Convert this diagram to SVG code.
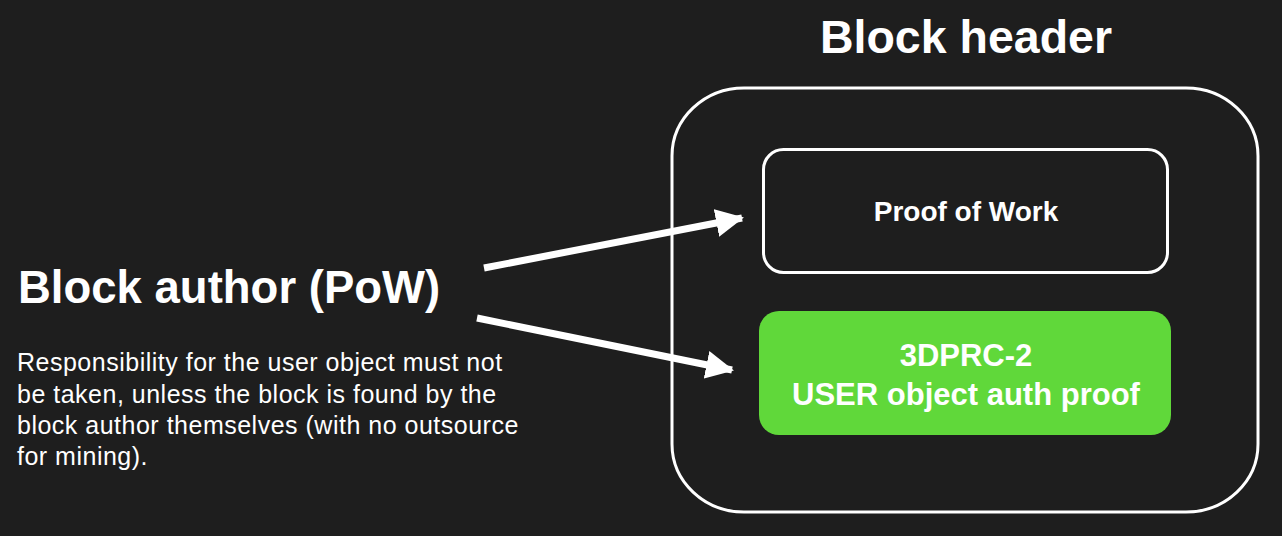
<svg xmlns="http://www.w3.org/2000/svg" width="1282" height="536" viewBox="0 0 1282 536">
<style>
.t{font-family:"Liberation Sans",Arial,sans-serif;fill:#ffffff}
.b{font-weight:bold}
.box{fill:none;stroke:#ffffff;stroke-width:3}
.conn{stroke:#ffffff;stroke-width:7;fill:none}
</style>
<defs>
<marker id="ah" markerUnits="userSpaceOnUse" markerWidth="30" markerHeight="30" viewBox="0 0 30 30" refX="26" refY="15" orient="auto">
<path d="M0,1 L28,15 L0,29 Z" fill="#ffffff"/>
</marker>
</defs>
<rect width="1282" height="536" fill="#1e1e1e"/>
<g id="block-header">
<rect class="box" x="672" y="88" width="586" height="424" rx="72" ry="68"/>
<text class="t b" x="966" y="53" font-size="46.5" text-anchor="middle">Block header</text>
</g>
<g id="proof-of-work">
<rect class="box" x="763.5" y="149.5" width="404" height="123" rx="20"/>
<text class="t b" x="966" y="221" font-size="28" text-anchor="middle">Proof of Work</text>
</g>
<g id="user-proof">
<rect x="759" y="311" width="412" height="124" rx="20" fill="#60d83a"/>
<text class="t b" x="966" y="366" font-size="31" text-anchor="middle">3DPRC-2</text>
<text class="t b" x="966" y="405" font-size="31" text-anchor="middle">USER object auth proof</text>
</g>
<g id="block-author">
<text class="t b" x="18" y="303" font-size="45.5">Block author (PoW)</text>
<text class="t" font-size="25" letter-spacing="0.5">
<tspan x="17" y="371">Responsibility for the user object must not</tspan>
<tspan x="17" y="403">be taken, unless the block is found by the</tspan>
<tspan x="17" y="434">block author themselves (with no outsource</tspan>
<tspan x="17" y="465">for mining).</tspan>
</text>
</g>
<g id="connectors">
<line class="conn" x1="484" y1="268" x2="742" y2="218" marker-end="url(#ah)"/>
<line class="conn" x1="477" y1="318" x2="732" y2="370" marker-end="url(#ah)"/>
</g>
</svg>
